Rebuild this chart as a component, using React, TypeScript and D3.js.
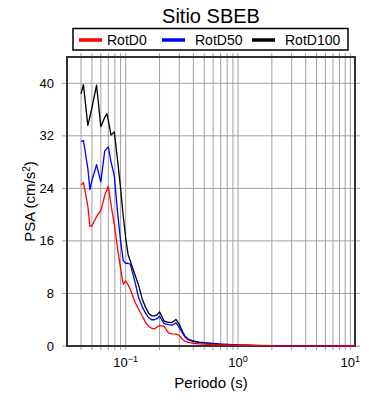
import React from 'react';
import * as d3 from 'd3';

// periodos (s) y PSA (cm/s2)
const periods = [0.04, 0.042, 0.046, 0.048, 0.05, 0.055, 0.06, 0.065, 0.068, 0.07, 0.074, 0.079, 0.085, 0.09, 0.095,
  0.1, 0.105, 0.11, 0.12, 0.13, 0.14, 0.15, 0.16, 0.17, 0.18, 0.19, 0.2, 0.22, 0.24, 0.26, 0.28, 0.3, 0.32, 0.34, 0.36,
  0.4, 0.45, 0.5, 0.6, 0.7, 0.8, 0.9, 1.0, 1.5, 2, 3, 4, 5, 7, 10, 11];
const rotD0 = [24.5, 24.9, 21.3, 18.2, 18.3, 19.7, 20.6, 22.9, 23.8, 24.3, 21.5, 18.6, 14.6, 11.8, 9.4,
  9.9, 9.3, 8.6, 6.8, 5.6, 4.6, 3.6, 3.0, 2.7, 2.6, 2.9, 3.1, 3.0, 2.0, 1.85, 1.8, 1.6, 1.0, 0.7, 0.55,
  0.4, 0.33, 0.28, 0.22, 0.18, 0.15, 0.12, 0.1, 0.05, 0.03, 0.018, 0.012, 0.009, 0.006, 0.003, 0.002];
const rotD50 = [31.1, 31.3, 27.0, 23.8, 25.2, 27.6, 25.0, 29.7, 30.1, 30.3, 28.0, 26.0, 20.0, 16.0, 13.0,
  12.6, 12.6, 12.4, 10.0, 7.4, 6.0, 5.0, 4.3, 4.0, 4.0, 4.2, 4.55, 3.4, 3.25, 3.2, 3.55, 2.8, 2.0, 1.3, 0.95,
  0.65, 0.52, 0.43, 0.33, 0.26, 0.21, 0.17, 0.14, 0.07, 0.045, 0.025, 0.018, 0.013, 0.008, 0.004, 0.003];
const rotD100 = [38.4, 39.8, 33.6, 34.9, 36.3, 39.7, 33.4, 34.8, 35.4, 34.3, 32.1, 32.6, 28.0, 24.0, 19.8,
  16.4, 13.9, 12.9, 11.0, 9.3, 7.2, 5.9, 5.0, 4.6, 4.6, 4.75, 5.2, 3.8, 3.6, 3.6, 4.05, 3.3, 2.2, 1.4, 1.05,
  0.76, 0.6, 0.5, 0.38, 0.3, 0.25, 0.2, 0.16, 0.08, 0.05, 0.03, 0.02, 0.015, 0.01, 0.005, 0.004];
const yTicks = [0, 8, 16, 24, 32, 40];
const xMajor = [0.1, 1, 10];
const xExp = ['\u22121', '0', '1'];

const series = [
  { name: 'RotD100', values: rotD100, color: '#000000' },
  { name: 'RotD50', values: rotD50, color: '#0000ff' },
  { name: 'RotD0', values: rotD0, color: '#ff0000' },
];

const font = '"Liberation Sans", Arial, Helvetica, sans-serif';

export default function App() {
  const left = 67, right = 355, top = 57, bottom = 346;
  const x = d3.scaleLog().domain([0.03, 11]).range([left, right]);
  const y = d3.scaleLinear().domain([0, 44]).range([bottom, top]);
  const grid = x.ticks().filter((t) => t > 0.031 && t < 10.5);
  const line = d3.line<number>().x((_, i) => x(periods[i])).y((d) => y(d));

  const legend = [
    { name: 'RotD0', color: '#ff0000', lx: 79, tx: 107 },
    { name: 'RotD50', color: '#0000ff', lx: 162, tx: 195 },
    { name: 'RotD100', color: '#000000', lx: 252, tx: 285 },
  ];

  return (
    <svg width={390} height={400} style={{ position: 'absolute', left: 0, top: 0, background: '#fff' }} fontFamily={font}>
      <text x={211} y={23} textAnchor="middle" fontSize={20}>Sitio SBEB</text>
      <rect x={73} y={28.5} width={275} height={21.5} fill="none" stroke="#000" strokeWidth={1.5} />
      {legend.map((l) => (
        <g key={l.name}>
          <line x1={l.lx} x2={l.lx + 23} y1={40} y2={40} stroke={l.color} strokeWidth={3.5} />
          <text x={l.tx} y={45} fontSize={14}>{l.name}</text>
        </g>
      ))}

      {grid.map((t) => (
        <line key={'gx' + t} x1={x(t)} x2={x(t)} y1={top - 4} y2={bottom + 4} stroke="#a0a0a0" strokeWidth={1} />
      ))}
      {yTicks.map((t) => (
        <line key={'gy' + t} x1={left - 5} x2={right + 5} y1={y(t)} y2={y(t)} stroke="#a0a0a0" strokeWidth={1} />
      ))}

      <rect x={left} y={top} width={right - left} height={bottom - top} fill="none" stroke="#333" strokeWidth={2} />

      {series.map((s) => (
        <path key={s.name} d={line(s.values) || ''} fill="none" stroke={s.color} strokeWidth={1.3} strokeLinejoin="round" />
      ))}

      {yTicks.map((t) => (
        <text key={'ly' + t} x={54} y={y(t) + 4.5} textAnchor="end" fontSize={13}>{t}</text>
      ))}
      {xMajor.map((t, i) => (
        <text key={'lx' + t} x={x(t)} y={367} textAnchor="middle" fontSize={13}>
          10<tspan dy={-5} fontSize={9}>{xExp[i]}</tspan>
        </text>
      ))}
      <text x={211} y={388} textAnchor="middle" fontSize={15}>Periodo (s)</text>
      <text transform={`translate(35,${(top + bottom) / 2}) rotate(-90)`} textAnchor="middle" fontSize={15}>
        PSA (cm/s<tspan dy={-5} fontSize={10}>2</tspan><tspan dy={5}>)</tspan>
      </text>
    </svg>
  );
}
